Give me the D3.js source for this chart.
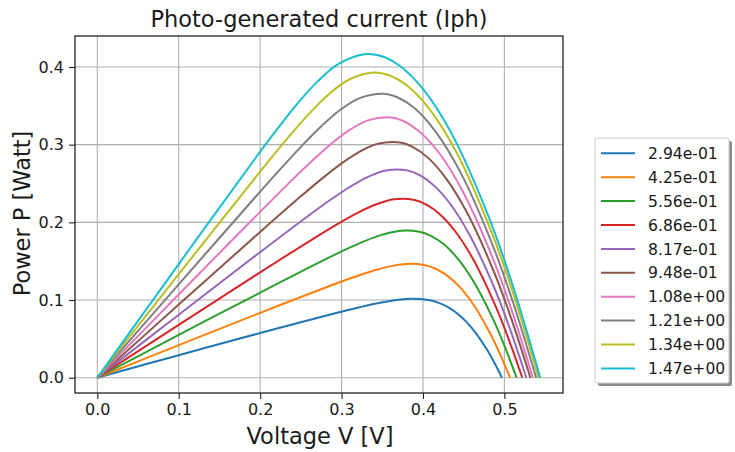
<!DOCTYPE html>
<html>
<head>
<meta charset="utf-8">
<script src="https://cdn.jsdelivr.net/npm/d3@7"></script>
<style>
  html, body { margin: 0; padding: 0; background: #fff; }
  svg { display: block; }
  text { font-family: "DejaVu Sans", sans-serif; fill: #1a1a1a; }
</style>
</head>
<body>
<div id="chart"></div>
<script>
// ---- Data ----
const iphLabels = ["2.94e-01","4.25e-01","5.56e-01","6.86e-01","8.17e-01","9.48e-01","1.08e+00","1.21e+00","1.34e+00","1.47e+00"];
const seriesColors = ["#1f77b4","#ff7f0e","#2ca02c","#d62728","#9467bd","#8c564b","#e377c2","#7f7f7f","#bcbd22","#17becf"];
const xTicks = [0.0, 0.1, 0.2, 0.3, 0.4, 0.5];
const yTicks = [0.0, 0.1, 0.2, 0.3, 0.4];

// [voltage V, power P]
const curve1 = [[0,0],[0.1,0.0290],[0.2,0.0575],[0.2921,0.0829],[0.3224,0.0907],[0.3427,0.0955],[0.3634,0.0994],[0.3845,0.1015],[0.4068,0.0999],[0.4186,0.0966],[0.4312,0.0905],[0.4448,0.0803],[0.4599,0.0641],[0.4770,0.0388],[0.4866,0.0215],[0.497,0]];
const curve2 = [[0,0],[0.1,0.0420],[0.2,0.0835],[0.2861,0.1184],[0.3165,0.1300],[0.3370,0.1371],[0.3578,0.1430],[0.3795,0.1465],[0.4028,0.1448],[0.4155,0.1403],[0.4292,0.1318],[0.4445,0.1175],[0.4619,0.0942],[0.4823,0.0575],[0.4940,0.0320],[0.507,0]];
const curve3 = [[0,0],[0.1,0.0551],[0.2,0.1095],[0.2781,0.1513],[0.3086,0.1667],[0.3292,0.1762],[0.3503,0.1842],[0.3725,0.1893],[0.3968,0.1877],[0.4103,0.1824],[0.4253,0.1720],[0.4422,0.1539],[0.4620,0.1241],[0.4857,0.0763],[0.4995,0.0426],[0.515,0]];
const curve4 = [[0,0],[0.1,0.0681],[0.2,0.1356],[0.2691,0.1814],[0.2996,0.2007],[0.3204,0.2126],[0.3418,0.2229],[0.3645,0.2297],[0.3898,0.2288],[0.4042,0.2229],[0.4203,0.2109],[0.4389,0.1895],[0.4610,0.1537],[0.4880,0.0951],[0.5040,0.0533],[0.522,0]];
const curve5 = [[0,0],[0.1,0.0811],[0.2,0.1616],[0.2581,0.2076],[0.2887,0.2307],[0.3096,0.2452],[0.3313,0.2579],[0.3545,0.2667],[0.3808,0.2669],[0.3960,0.2608],[0.4133,0.2476],[0.4336,0.2236],[0.4580,0.1824],[0.4884,0.1137],[0.5065,0.0640],[0.527,0]];
const curve6 = [[0,0],[0.1,0.0941],[0.2,0.1876],[0.2471,0.2309],[0.2778,0.2579],[0.2988,0.2750],[0.3207,0.2902],[0.3445,0.3012],[0.3718,0.3029],[0.3879,0.2969],[0.4063,0.2830],[0.4283,0.2567],[0.4551,0.2107],[0.4887,0.1323],[0.5089,0.0748],[0.532,0]];
const curve7 = [[0,0],[0.1,0.1072],[0.2,0.2135],[0.2341,0.2492],[0.2649,0.2802],[0.2860,0.3000],[0.3082,0.3178],[0.3324,0.3313],[0.3608,0.3350],[0.3777,0.3295],[0.3973,0.3155],[0.4210,0.2877],[0.4501,0.2375],[0.4871,0.1503],[0.5094,0.0853],[0.535,0]];
const curve8 = [[0,0],[0.1,0.1202],[0.2,0.2395],[0.2220,0.2653],[0.2529,0.3004],[0.2742,0.3228],[0.2966,0.3433],[0.3214,0.3596],[0.3508,0.3656],[0.3685,0.3610],[0.3894,0.3471],[0.4146,0.3181],[0.4461,0.2643],[0.4864,0.1685],[0.5109,0.0961],[0.539,0]];
const curve9 = [[0,0],[0.1,0.1332],[0.2,0.2653],[0.2090,0.2770],[0.2400,0.3161],[0.2614,0.3413],[0.2841,0.3647],[0.3094,0.3839],[0.3398,0.3929],[0.3584,0.3894],[0.3804,0.3761],[0.4073,0.3467],[0.4412,0.2899],[0.4847,0.1863],[0.5114,0.1067],[0.542,0]];
const curve10 = [[0,0],[0.1,0.1462],[0.195,0.2838],[0.2261,0.3270],[0.2476,0.3551],[0.2706,0.3815],[0.2963,0.4039],[0.3278,0.4163],[0.3472,0.4144],[0.3704,0.4023],[0.3990,0.3730],[0.4352,0.3142],[0.4821,0.2035],[0.5108,0.1170],[0.544,0]];

const curves = [curve1, curve2, curve3, curve4, curve5, curve6, curve7, curve8, curve9, curve10];

// ---- Layout ----
const W = 735, H = 452;
const plot = { left: 75, right: 563, top: 36, bottom: 393 };

const svg = d3.select("#chart").append("svg")
  .attr("width", W).attr("height", H);

const x = d3.scaleLinear().domain([-0.0274, 0.572]).range([plot.left, plot.right]);
const y = d3.scaleLinear().domain([-0.0197, 0.4399]).range([plot.bottom, plot.top]);

// grid
const grid = svg.append("g");
grid.selectAll("line.gx").data(xTicks).join("line")
  .attr("x1", d => x(d)).attr("x2", d => x(d))
  .attr("y1", plot.top).attr("y2", plot.bottom)
  .attr("stroke", "#b0b0b0").attr("stroke-width", 1.1);
grid.selectAll("line.gy").data(yTicks).join("line")
  .attr("y1", d => y(d)).attr("y2", d => y(d))
  .attr("x1", plot.left).attr("x2", plot.right)
  .attr("stroke", "#b0b0b0").attr("stroke-width", 1.1);

// curves
const line = d3.line().x(d => x(d[0])).y(d => y(d[1])).curve(d3.curveCatmullRom.alpha(0.5));
svg.append("clipPath").attr("id", "clip").append("rect")
  .attr("x", plot.left).attr("y", plot.top)
  .attr("width", plot.right - plot.left).attr("height", plot.bottom - plot.top);
svg.append("g").attr("clip-path", "url(#clip)")
  .selectAll("path").data(curves).join("path")
  .attr("d", line)
  .attr("fill", "none")
  .attr("stroke", (d, i) => seriesColors[i])
  .attr("stroke-width", 2)
  .attr("stroke-linejoin", "round");

// axes
const xAxis = d3.axisBottom(x).tickValues(xTicks).tickFormat(d3.format(".1f")).tickSizeOuter(0).tickSize(6).tickPadding(5);
const yAxis = d3.axisLeft(y).tickValues(yTicks).tickFormat(d3.format(".1f")).tickSizeOuter(0).tickSize(6).tickPadding(5);

const gx = svg.append("g").attr("transform", `translate(0,${plot.bottom})`).call(xAxis);
const gy = svg.append("g").attr("transform", `translate(${plot.left},0)`).call(yAxis);
[gx, gy].forEach(g => {
  g.select(".domain").remove();
  g.selectAll(".tick line").attr("stroke", "#222").attr("stroke-width", 1.1);
  g.selectAll(".tick text").attr("font-family", "DejaVu Sans").attr("font-size", 16).attr("fill", "#222");
});

// frame
svg.append("rect")
  .attr("x", plot.left).attr("y", plot.top)
  .attr("width", plot.right - plot.left).attr("height", plot.bottom - plot.top)
  .attr("fill", "none").attr("stroke", "#222").attr("stroke-width", 1.3);

// title and labels
const cx = (plot.left + plot.right) / 2;
svg.append("text").attr("x", cx).attr("y", 27).attr("text-anchor", "middle")
  .attr("font-size", 22.5).text("Photo-generated current (Iph)");
svg.append("text").attr("x", cx + 1).attr("y", 444).attr("text-anchor", "middle")
  .attr("font-size", 22.5).text("Voltage V [V]");
svg.append("text").attr("transform", `translate(30,${(plot.top + plot.bottom) / 2 - 1}) rotate(-90)`)
  .attr("text-anchor", "middle").attr("font-size", 22.5).text("Power P [Watt]");

// legend
const lg = { x: 595, y: 138, w: 134, h: 245, row: 23.9, first: 153.3 };
const legend = svg.append("g");
legend.append("rect").attr("x", lg.x + 3).attr("y", lg.y + 3).attr("width", lg.w).attr("height", lg.h)
  .attr("rx", 2).attr("fill", "#8a8a8a");
legend.append("rect").attr("x", lg.x).attr("y", lg.y).attr("width", lg.w).attr("height", lg.h)
  .attr("rx", 2).attr("fill", "#fff").attr("stroke", "#cccccc").attr("stroke-width", 1);
const items = legend.selectAll("g.item").data(iphLabels).join("g")
  .attr("transform", (d, i) => `translate(0,${lg.first + i * lg.row})`);
items.append("line").attr("x1", 601).attr("x2", 635).attr("y1", 0).attr("y2", 0)
  .attr("stroke", (d, i) => seriesColors[i]).attr("stroke-width", 2);
items.append("text").attr("x", 648).attr("y", 0).attr("dy", "0.36em")
  .attr("font-size", 15.6).text(d => d);
</script>
</body>
</html>
